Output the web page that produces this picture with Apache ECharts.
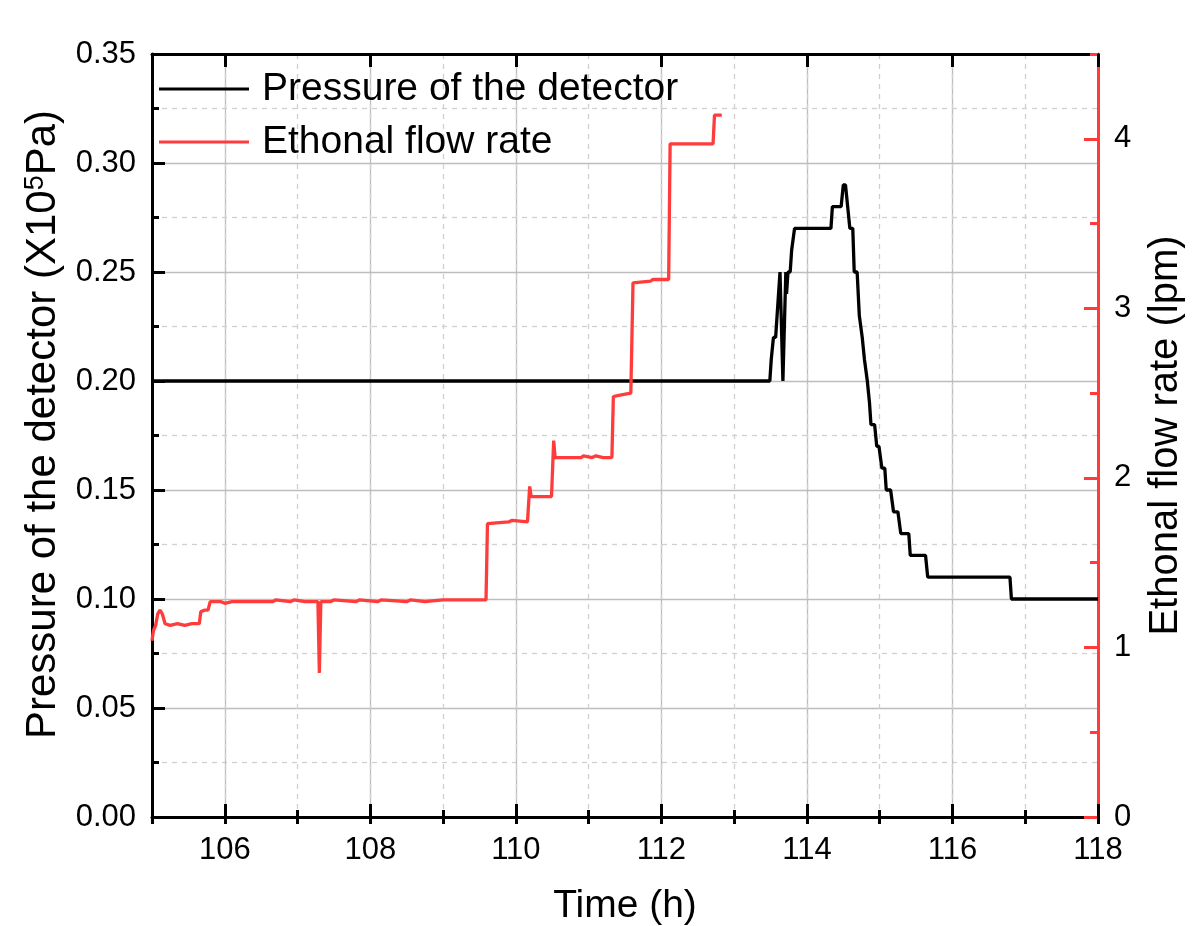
<!DOCTYPE html>
<html>
<head>
<meta charset="utf-8">
<script src="https://cdn.jsdelivr.net/npm/echarts@6/dist/echarts.min.js"></script>
<style>html,body{margin:0;padding:0;background:#fff;overflow:hidden;}#c{width:1202px;height:926px;}</style>
</head>
<body>
<div id="c"></div>
<script>
// ---- data ----
const xMajorTicks = [106, 108, 110, 112, 114, 116, 118];
const flowMajorTicks = [0, 1, 2, 3, 4];

const pressureTime = [105.00, 113.49, 113.51, 113.54, 113.57, 113.59, 113.61, 113.63, 113.65, 113.67, 113.69, 113.71, 113.72, 113.74, 113.77, 113.79, 113.81, 113.83, 114.33, 114.35, 114.47, 114.50, 114.53, 114.56, 114.59, 114.63, 114.65, 114.69, 114.72, 114.76, 114.79, 114.83, 114.86, 114.88, 114.93, 114.96, 114.99, 115.03, 115.07, 115.09, 115.15, 115.19, 115.25, 115.29, 115.40, 115.42, 115.63, 115.66, 116.79, 116.81, 118.00];
const pressureValue = [0.20, 0.20, 0.21, 0.22, 0.22, 0.23, 0.23, 0.25, 0.25, 0.20, 0.20, 0.25, 0.24, 0.25, 0.25, 0.26, 0.26, 0.27, 0.27, 0.28, 0.28, 0.29, 0.29, 0.28, 0.27, 0.27, 0.25, 0.25, 0.23, 0.22, 0.21, 0.20, 0.19, 0.18, 0.18, 0.17, 0.17, 0.16, 0.16, 0.15, 0.15, 0.14, 0.14, 0.13, 0.13, 0.12, 0.12, 0.11, 0.11, 0.10, 0.10];

const flowTime = [105.00, 105.02, 105.05, 105.08, 105.11, 105.14, 105.18, 105.25, 105.35, 105.45, 105.55, 105.65, 105.67, 105.72, 105.77, 105.80, 105.95, 106.00, 106.10, 106.50, 106.66, 106.70, 106.90, 106.95, 107.10, 107.28, 107.30, 107.32, 107.45, 107.50, 107.80, 107.85, 108.10, 108.15, 108.50, 108.55, 108.75, 109.00, 109.59, 109.61, 109.90, 109.95, 110.16, 110.19, 110.21, 110.35, 110.49, 110.52, 110.54, 110.90, 110.93, 111.05, 111.10, 111.20, 111.32, 111.34, 111.45, 111.58, 111.61, 111.85, 111.88, 112.10, 112.12, 112.71, 112.73, 112.83];
const flowValue = [1.04, 1.10, 1.13, 1.20, 1.22, 1.20, 1.14, 1.13, 1.14, 1.13, 1.14, 1.14, 1.21, 1.22, 1.22, 1.27, 1.27, 1.26, 1.27, 1.27, 1.27, 1.28, 1.27, 1.28, 1.27, 1.27, 0.85, 1.27, 1.27, 1.28, 1.27, 1.28, 1.27, 1.28, 1.27, 1.28, 1.27, 1.28, 1.28, 1.73, 1.74, 1.75, 1.74, 1.95, 1.89, 1.89, 1.89, 2.22, 2.12, 2.12, 2.13, 2.12, 2.13, 2.12, 2.12, 2.48, 2.49, 2.50, 3.15, 3.16, 3.17, 3.17, 3.97, 3.97, 4.14, 4.14];

const pressureName = 'Pressure of the detector';
const flowName = 'Ethonal flow rate';

// ---- chart ----
const FONT = '"Liberation Sans", Arial, sans-serif';
const RED = '#ff3b3b';
const GRID_SOLID = '#bdbdbd';
const GRID_DASH = '#d0d0d0';
const AXW = 3;

const chart = echarts.init(document.getElementById('c'), null, {renderer: 'canvas', width: 1202, height: 926});

const pressureData = pressureTime.map((t, i) => [t, pressureValue[i]]);
const flowData = flowTime.map((t, i) => [t, flowValue[i]]);

const option = {
  backgroundColor: '#fff',
  animation: false,
  textStyle: {fontFamily: FONT},
  grid: {left: 152, right: 104, top: 54, bottom: 109, containLabel: false, outerBoundsMode: 'none'},
  legend: {
    orient: 'vertical', left: 154, top: 64,
    icon: 'rect', itemWidth: 90, itemHeight: 3, itemGap: 13,
    textStyle: {fontSize: 39, color: '#000', fontFamily: FONT, lineHeight: 40, padding: [0, 0, 0, 8]},
    data: [pressureName, flowName]
  },
  xAxis: [
    { // main bottom axis: labels, major ticks, solid grid
      type: 'value', position: 'bottom', min: 105, max: 118,
      name: 'Time (h)', nameLocation: 'middle', nameGap: 70,
      nameTextStyle: {fontSize: 39, color: '#000', fontFamily: FONT},
      axisLine: {show: true, onZero: false, lineStyle: {color: '#000', width: AXW}},
      axisTick: {show: true, inside: true, length: 13, customValues: xMajorTicks, lineStyle: {color: '#000', width: AXW}},
      axisLabel: {show: true, customValues: xMajorTicks, fontSize: 31, color: '#000', margin: 18, fontFamily: FONT},
      splitLine: {show: true, lineStyle: {color: GRID_SOLID, width: 1.3, type: 'solid'}}
    },
    { // bottom minor ticks + dashed grid
      type: 'value', position: 'bottom', min: 105, max: 118, interval: 1,
      axisLine: {show: false},
      axisTick: {show: true, inside: true, length: 7, lineStyle: {color: '#000', width: AXW}},
      axisLabel: {show: false},
      splitLine: {show: true, lineStyle: {color: GRID_DASH, width: 1.3, type: [5, 5]}}
    },
    { // top mirror: line + major ticks
      type: 'value', position: 'top', min: 105, max: 118,
      axisLine: {show: true, onZero: false, lineStyle: {color: '#000', width: AXW}},
      axisTick: {show: true, inside: true, length: 13, customValues: xMajorTicks, lineStyle: {color: '#000', width: AXW}},
      axisLabel: {show: false},
      splitLine: {show: false}
    },
    { // top minor ticks
      type: 'value', position: 'top', min: 105, max: 118, interval: 1,
      axisLine: {show: false},
      axisTick: {show: true, inside: true, length: 7, lineStyle: {color: '#000', width: AXW}},
      axisLabel: {show: false},
      splitLine: {show: false}
    }
  ],
  yAxis: [
    { // pressure (left)
      type: 'value', position: 'left', min: 0, max: 0.35, interval: 0.05,
      name: '{a|Pressure of the detector (X10}{s|5}{a|Pa)}',
      nameLocation: 'middle', nameGap: 84, nameRotate: 90,
      nameTextStyle: {
        color: '#000', fontFamily: FONT, padding: [0, 0, 0, 22],
        rich: {
          a: {fontSize: 42, color: '#000', fontFamily: FONT, lineHeight: 44},
          s: {fontSize: 27, color: '#000', fontFamily: FONT, verticalAlign: 'top', lineHeight: 44, padding: [0, 0, 15, 0]}
        }
      },
      axisLine: {show: true, onZero: false, lineStyle: {color: '#000', width: AXW}},
      axisTick: {show: true, inside: true, length: 13, lineStyle: {color: '#000', width: AXW}},
      minorTick: {show: true, splitNumber: 2, length: 7, lineStyle: {color: '#000', width: AXW}},
      axisLabel: {fontSize: 31, color: '#000', margin: 16, fontFamily: FONT, formatter: v => v.toFixed(2)},
      splitLine: {show: true, lineStyle: {color: GRID_SOLID, width: 1.3}},
      minorSplitLine: {show: true, lineStyle: {color: GRID_DASH, width: 1.3, type: [5, 5]}}
    },
    { // flow (right): line, half ticks, labels
      type: 'value', position: 'right', min: 0, max: 4.5, interval: 0.5,
      name: 'Ethonal flow rate (lpm)', nameLocation: 'middle', nameGap: 48, nameRotate: 90,
      nameTextStyle: {fontSize: 40, color: '#000', fontFamily: FONT},
      axisLine: {show: true, onZero: false, lineStyle: {color: RED, width: AXW}},
      axisTick: {show: true, inside: true, length: 8, lineStyle: {color: RED, width: AXW}},
      axisLabel: {fontSize: 31, color: '#000', margin: 16, fontFamily: FONT,
        formatter: v => (Math.abs(v - Math.round(v)) < 1e-9 && v <= 4) ? String(Math.round(v)) : ''},
      splitLine: {show: false}
    },
    { // flow major ticks overlay
      type: 'value', position: 'right', min: 0, max: 4.5,
      axisLine: {show: false},
      axisTick: {show: true, inside: true, length: 14, customValues: flowMajorTicks, lineStyle: {color: RED, width: AXW}},
      axisLabel: {show: false},
      splitLine: {show: false}
    }
  ],
  series: [
    {
      name: pressureName, type: 'line', xAxisIndex: 0, yAxisIndex: 0,
      data: pressureData, symbol: 'none', showSymbol: false,
      lineStyle: {color: '#000', width: 3.3}, itemStyle: {color: '#000'}, z: 3
    },
    {
      name: flowName, type: 'line', xAxisIndex: 0, yAxisIndex: 1,
      data: flowData, symbol: 'none', showSymbol: false,
      lineStyle: {color: RED, width: 3.3}, itemStyle: {color: RED}, z: 4
    }
  ]
};
chart.setOption(option);
</script>
</body>
</html>
